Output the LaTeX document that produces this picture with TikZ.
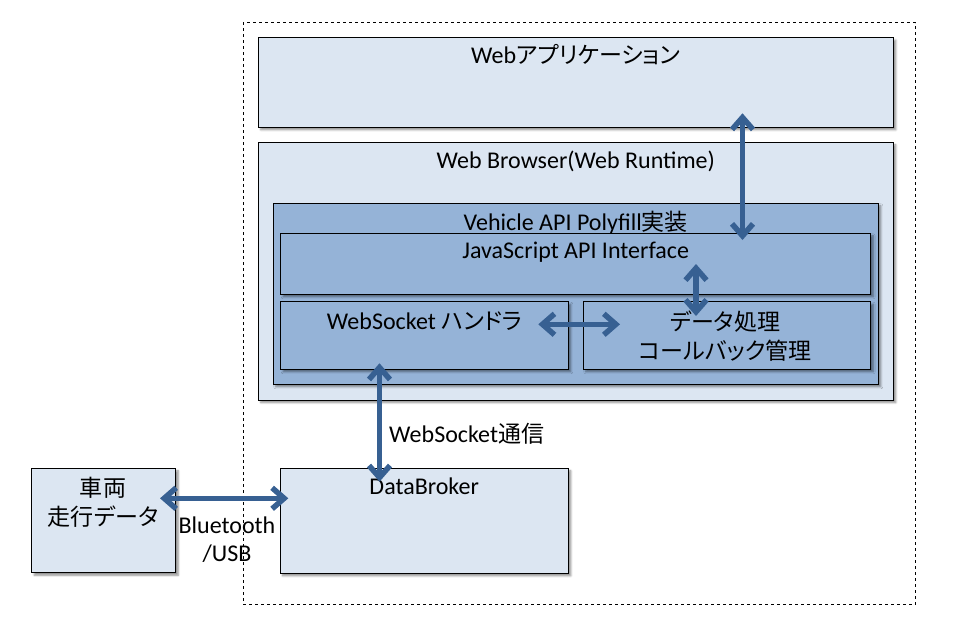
\documentclass[tikz,border=0pt]{standalone}
\usepackage{fontspec}
\setmainfont{Carlito}
\newfontfamily\jp[RawFeature=+palt,Scale=0.96]{Noto Sans CJK JP}
\usepackage{tikz}
\usetikzlibrary{arrows.meta,shadows.blur}

\definecolor{paleblue}{RGB}{220,230,242}
\definecolor{midblue}{RGB}{149,179,215}
\definecolor{linkblue}{RGB}{55,96,146}

\tikzset{
  box/.style={draw=black,line width=0.9pt,fill=paleblue,inner sep=0pt,
    blur shadow={shadow xshift=2.5pt,shadow yshift=-2.5pt,shadow blur radius=2pt,shadow blur steps=6,shadow opacity=45}},
  subbox/.style={box,fill=midblue},
  txt/.style={inner sep=0pt,align=center,font=\fontsize{24}{28.5}\selectfont},
  link/.style={draw=linkblue,line width=5.5pt,{Straight Barb[length=12pt,width=21pt]}-{Straight Barb[length=12pt,width=21pt]}},
}

\begin{document}
\begin{tikzpicture}[x=1pt,y=1pt,yscale=-1,xscale=1]
\useasboundingbox (0,0) rectangle (957,627);

%Dashed frame
\node[draw=black,line width=0.7pt,dashed,inner sep=0pt,minimum width=672.5pt,minimum height=581.5pt] (frame) at (579.25,313.25) {};

%Boxes
\node[box,minimum width=635pt,minimum height=89.6pt] (app) at (575.8,82.5) {};
\node[box,minimum width=635pt,minimum height=257.7pt] (browser) at (575.8,271.2) {};
\node[subbox,minimum width=605pt,minimum height=181pt] (polyfill) at (575.8,293.8) {};
\node[subbox,minimum width=590pt,minimum height=61pt] (jsapi) at (575.7,263.8) {};
\node[subbox,minimum width=287.6pt,minimum height=67.6pt] (wshandler) at (424.5,335.5) {};
\node[subbox,minimum width=287.4pt,minimum height=67.6pt] (dataproc) at (727,335.5) {};
\node[box,minimum width=144pt,minimum height=104.4pt] (vehicle) at (103.7,520.5) {};
\node[box,minimum width=288.3pt,minimum height=105pt] (broker) at (424.2,520.8) {};

% Text Node
\node[txt] (apptxt) at (575.8,55) {Web{\jp アプリケーション}};
% Text Node
\node[txt] (browsertxt) at (575.8,161) {Web Browser(Web Runtime)};
% Text Node
\node[txt] (polyfilltxt) at (575.8,222.5) {Vehicle API Polyfill{\jp 実装}};
% Text Node
\node[txt] (jsapitxt) at (575.7,252.5) {JavaScript API Interface};
% Text Node
\node[txt] (wstxt) at (424.5,321.5) {WebSocket {\jp ハンドラ}};
% Text Node
\node[txt] (dataproctxt) at (725,336) {\jp データ処理\\\jp コールバック管理};
% Text Node
\node[txt] (vehicletxt) at (103,502.5) {\jp 車両\\\jp 走行データ};
% Text Node
\node[txt] (brokertxt) at (424.2,486.5) {DataBroker};
% Text Node
\node[txt,anchor=west] (wslinktxt) at (389,434) {WebSocket{\jp 通信}};
% Text Node
\node[txt] (bttxt) at (227,539.5) {Bluetooth\\/USB};

%Arrow ends
\coordinate (append) at (742.5,113.3);
\coordinate (jsend) at (742.5,240);
\coordinate (jsdown) at (696,264);
\coordinate (procup) at (696,316);
\coordinate (wsright) at (538.3,324.3);
\coordinate (procleft) at (620,324.3);
\coordinate (wsdown) at (379.5,363.3);
\coordinate (brokerup) at (379.5,481.7);
\coordinate (vehright) at (160,498.3);
\coordinate (brokerleft) at (288.3,498.3);

%Straight Lines
\draw[link] (append) -- (jsend);
\draw[link] (jsdown) -- (procup);
\draw[link] (wsright) -- (procleft);
\draw[link] (wsdown) -- (brokerup);
\draw[link] (vehright) -- (brokerleft);

\end{tikzpicture}
\end{document}
